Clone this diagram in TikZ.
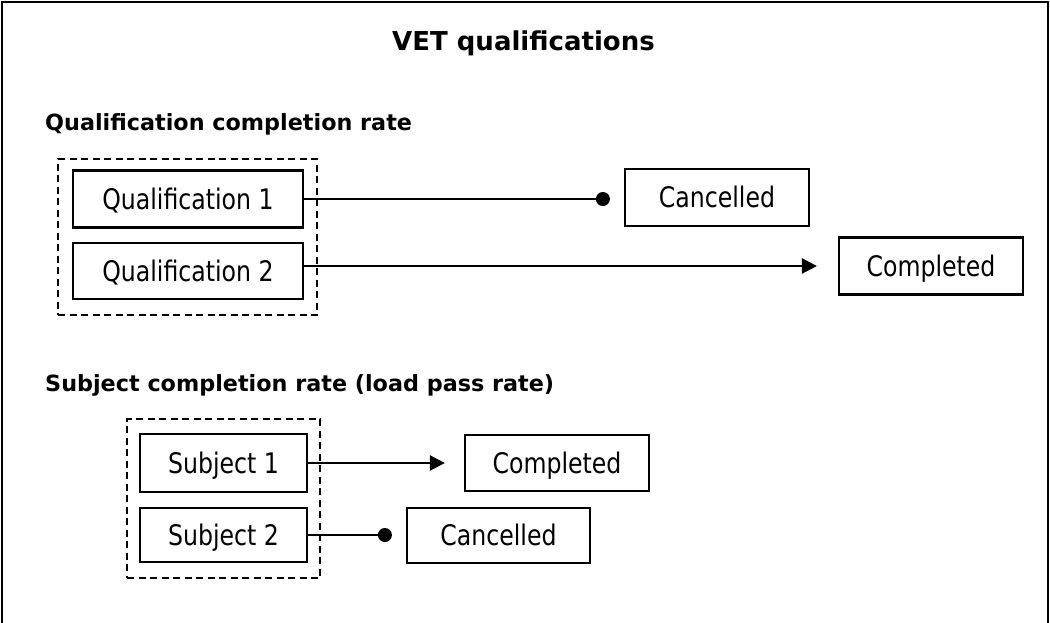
\documentclass[tikz,border=0pt]{standalone}
\usepackage{fontspec}
\setmainfont{DejaVu Sans}
\newfontfamily\boxfont[FakeStretch=0.835]{DejaVu Sans}
\usetikzlibrary{arrows.meta}
\tikzset{
  box/.style={draw, line width=2.2pt, inner sep=0pt, text height=20.6pt, text depth=0pt,
    font=\boxfont\fontsize{28.3}{30}\selectfont},
  group/.style={draw, line width=1.8pt, dash pattern=on 7pt off 4.5pt},
  heading/.style={anchor=base west, inner sep=0pt, font=\fontsize{22.3}{26}\selectfont\bfseries},
  conn/.style={line width=2.4pt},
  toarrow/.style={conn, -{Triangle[length=15pt, width=15pt]}},
  todot/.style={conn, -{Circle[length=14pt]}, shorten >=14pt},
}
\begin{document}
\begin{tikzpicture}[x=1pt, y=-1pt]
\useasboundingbox (0,0) rectangle (1050,622);
\draw[line width=2.2pt] (2,640) -- (2,2) -- (1048,2) -- (1048,640);
\node[anchor=base, inner sep=0pt, font=\fontsize{26}{30}\selectfont\bfseries] (title) at (523.5,50.5) {VET qualifications};
\node[heading] (h1) at (45,130) {Qualification completion rate};
\node[heading] (h2) at (45,391) {Subject completion rate (load pass rate)};
% qualification group
\node[group, minimum width=259pt, minimum height=156pt] (g1) at (187.5,237) {};
\node[box, minimum width=230pt, minimum height=57pt] (q1) at (188,199) {Qualification 1};
\node[box, minimum width=230pt, minimum height=56pt] (q2) at (188,271) {Qualification 2};
\node[box, minimum width=184pt, minimum height=57pt] (c1) at (717,197.5) {Cancelled};
\node[box, minimum width=184pt, minimum height=57pt] (d1) at (931,266) {Completed};
\draw[todot] (q1.east) -- (q1.east -| c1.west);
\draw[toarrow, shorten >=21pt] (d1.west -| q2.east) -- (d1.west);
% subject group
\node[group, minimum width=193pt, minimum height=159pt] (g2) at (223.5,498.5) {};
\node[box, minimum width=167pt, minimum height=58pt] (s1) at (223.5,463) {Subject 1};
\node[box, minimum width=167pt, minimum height=54pt] (s2) at (223.5,535) {Subject 2};
\node[box, minimum width=184pt, minimum height=56pt] (d2) at (557,463) {Completed};
\node[box, minimum width=183pt, minimum height=55pt] (c2) at (498.5,535.5) {Cancelled};
\draw[toarrow, shorten >=19pt] (s1.east) -- (s1.east -| d2.west);
\draw[todot] (s2.east) -- (s2.east -| c2.west);
\end{tikzpicture}
\end{document}
